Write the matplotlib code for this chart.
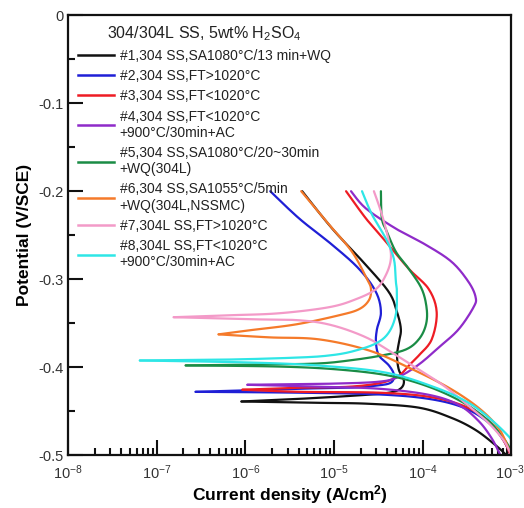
import matplotlib
matplotlib.use("Agg")
import matplotlib.pyplot as plt
import numpy as np
from matplotlib.lines import Line2D
from matplotlib.ticker import FixedLocator, FuncFormatter, LogLocator, NullFormatter

plt.rcParams['font.family'] = ['Liberation Sans', 'DejaVu Sans']
plt.rcParams['axes.unicode_minus'] = False
plt.rcParams['mathtext.default'] = 'regular'

# Polarization curves: log10(current density, A/cm2) and potential (V/SCE).
# Each sample has an anodic branch (corrosion potential -> top) and a
# cathodic branch (corrosion potential -> high cathodic current).
labels = [
    "#1,304 SS,SA1080°C/13 min+WQ",
    "#2,304 SS,FT>1020°C",
    "#3,304 SS,FT<1020°C",
    "#4,304 SS,FT<1020°C\n+900°C/30min+AC",
    "#5,304 SS,SA1080°C/20~30min\n+WQ(304L)",
    "#6,304 SS,SA1055°C/5min\n+WQ(304L,NSSMC)",
    "#7,304L SS,FT>1020°C",
    "#8,304L SS,FT<1020°C\n+900°C/30min+AC",
]
colors = ['#111111', '#1f1fd6', '#ee1c24', '#8f2bc9', '#1a8c45', '#f57a2a', '#f39ac8', '#2ee6e6']

s1_anodic_logi = [-6.045, -5.393, -4.719, -4.38, -4.247, -4.213, -4.27, -4.29, -4.27, -4.247, -4.29, -4.38, -4.64, -5.02, -5.36]
s1_anodic_e = [-0.439, -0.436, -0.432, -0.429, -0.424, -0.415, -0.403, -0.387, -0.372, -0.357, -0.3375, -0.315, -0.284, -0.2426, -0.2]
s1_cathodic_logi = [-6.045, -5.169, -4.607, -4.045, -3.674, -3.404, -3.18, -3.056]
s1_cathodic_e = [-0.439, -0.4405, -0.4416, -0.446, -0.4577, -0.4714, -0.4886, -0.5]

s2_anodic_logi = [-6.562, -5.393, -4.831, -4.528, -4.36, -4.326, -4.382, -4.494, -4.528, -4.517, -4.472, -4.528, -4.719, -5.022, -5.393, -5.72]
s2_anodic_e = [-0.428, -0.4245, -0.4233, -0.421, -0.4176, -0.4085, -0.398, -0.3867, -0.3719, -0.357, -0.3375, -0.3146, -0.2883, -0.2609, -0.2311, -0.2]
s2_cathodic_logi = [-6.562, -5.393, -4.494, -3.933, -3.539, -3.258, -3.09, -3.01]
s2_cathodic_e = [-0.428, -0.429, -0.431, -0.436, -0.446, -0.463, -0.483, -0.5]

s3_anodic_logi = [-6.034, -5.393, -4.831, -4.461, -4.27, -4.157, -4.045, -3.899, -3.843, -3.933, -4.157, -4.416, -4.64, -4.865]
s3_anodic_e = [-0.4256, -0.4233, -0.4222, -0.4176, -0.4096, -0.3982, -0.3867, -0.3684, -0.3375, -0.3112, -0.2883, -0.2574, -0.2311, -0.2]
s3_cathodic_logi = [-6.034, -5.393, -4.494, -3.933, -3.539, -3.258, -3.09, -3.01]
s3_cathodic_e = [-0.4256, -0.428, -0.429, -0.4336, -0.444, -0.461, -0.483, -0.5]

s4_anodic_logi = [-5.978, -5.056, -4.494, -4.27, -4.045, -3.82, -3.596, -3.427, -3.404, -3.483, -3.674, -3.966, -4.303, -4.64, -4.809]
s4_anodic_e = [-0.42, -0.4188, -0.4165, -0.4108, -0.397, -0.3776, -0.357, -0.3318, -0.3204, -0.3032, -0.2803, -0.2609, -0.2426, -0.2197, -0.2]
s4_cathodic_logi = [-5.978, -5.169, -4.494, -3.933, -3.596, -3.371, -3.225, -3.124, -3.08]
s4_cathodic_e = [-0.42, -0.4222, -0.4245, -0.4314, -0.4428, -0.4611, -0.4805, -0.5, -0.509]

s5_anodic_logi = [-6.674, -5.843, -5.202, -4.831, -4.461, -4.191, -4.045, -3.966, -3.955, -4.011, -4.157, -4.303, -4.404, -4.461, -4.472]
s5_anodic_e = [-0.398, -0.397, -0.3959, -0.3924, -0.3867, -0.3799, -0.3684, -0.3524, -0.3341, -0.3112, -0.2883, -0.2689, -0.246, -0.2311, -0.2]
s5_cathodic_logi = [-6.674, -5.618, -4.944, -4.382, -3.933, -3.539, -3.258, -3.09, -3.0]
s5_cathodic_e = [-0.398, -0.3993, -0.4027, -0.4096, -0.4222, -0.4405, -0.4611, -0.4805, -0.4954]

s6_anodic_logi = [-6.303, -5.955, -5.427, -4.944, -4.719, -4.607, -4.584, -4.629, -4.798, -5.056, -5.371]
s6_anodic_e = [-0.3627, -0.3581, -0.3513, -0.341, -0.3341, -0.3238, -0.3112, -0.2998, -0.2689, -0.238, -0.2]
s6_cathodic_logi = [-6.303, -5.73, -5.169, -4.607, -4.157, -3.708, -3.371, -3.146, -3.034, -3.0]
s6_cathodic_e = [-0.3627, -0.3661, -0.3684, -0.381, -0.4005, -0.4233, -0.4462, -0.4691, -0.492, -0.5]

s7_anodic_logi = [-6.809, -6.18, -5.618, -5.056, -4.753, -4.528, -4.416, -4.36, -4.382, -4.461, -4.551]
s7_anodic_e = [-0.3432, -0.341, -0.3387, -0.3318, -0.3227, -0.3112, -0.2952, -0.2769, -0.2574, -0.2265, -0.2]
s7_cathodic_logi = [-6.809, -5.955, -5.393, -5.022, -4.64, -4.348, -4.045, -3.764, -3.483, -3.258, -3.09, -3.011]
s7_cathodic_e = [-0.3432, -0.3455, -0.3467, -0.3524, -0.3661, -0.3833, -0.4027, -0.421, -0.4439, -0.4634, -0.4828, -0.4977]

s8_anodic_logi = [-7.191, -6.18, -5.393, -5.056, -4.798, -4.528, -4.382, -4.303, -4.292, -4.303, -4.326, -4.416, -4.573, -4.685]
s8_anodic_e = [-0.3924, -0.3913, -0.389, -0.3867, -0.3822, -0.373, -0.3604, -0.3398, -0.3146, -0.3032, -0.2769, -0.254, -0.2265, -0.2]
s8_cathodic_logi = [-7.191, -5.955, -5.169, -4.416, -3.854, -3.483, -3.225, -3.034, -3.0]
s8_cathodic_e = [-0.3924, -0.3947, -0.3982, -0.4062, -0.4233, -0.4405, -0.46, -0.4783, -0.484]

series = [
    (s1_anodic_logi, s1_anodic_e, s1_cathodic_logi, s1_cathodic_e),
    (s2_anodic_logi, s2_anodic_e, s2_cathodic_logi, s2_cathodic_e),
    (s3_anodic_logi, s3_anodic_e, s3_cathodic_logi, s3_cathodic_e),
    (s4_anodic_logi, s4_anodic_e, s4_cathodic_logi, s4_cathodic_e),
    (s5_anodic_logi, s5_anodic_e, s5_cathodic_logi, s5_cathodic_e),
    (s6_anodic_logi, s6_anodic_e, s6_cathodic_logi, s6_cathodic_e),
    (s7_anodic_logi, s7_anodic_e, s7_cathodic_logi, s7_cathodic_e),
    (s8_anodic_logi, s8_anodic_e, s8_cathodic_logi, s8_cathodic_e),
]

y_ticks = [0, -0.1, -0.2, -0.3, -0.4, -0.5]
x_ticks = [1e-8, 1e-7, 1e-6, 1e-5, 1e-4, 1e-3]


def smooth(logi, e, n=12):
    """Catmull-Rom interpolation through the sampled points."""
    p = np.column_stack([logi, e])
    p = np.vstack([p[0], p, p[-1]])
    out = []
    t = np.linspace(0, 1, n, endpoint=False)
    for i in range(1, len(p) - 2):
        p0, p1, p2, p3 = p[i - 1], p[i], p[i + 1], p[i + 2]
        tt = t[:, None]
        seg = 0.5 * ((2 * p1) + (-p0 + p2) * tt + (2 * p0 - 5 * p1 + 4 * p2 - p3) * tt ** 2
                     + (-p0 + 3 * p1 - 3 * p2 + p3) * tt ** 3)
        out.append(seg)
    out.append(p[-2][None, :])
    out = np.vstack(out)
    return out[:, 0], out[:, 1]


fig = plt.figure(figsize=(5.24, 5.08), dpi=100)
ax = fig.add_axes([0.130, 0.104, 0.846, 0.866])

for (al, ae, cl, ce), c in zip(series, colors):
    x, y = smooth(al, ae)
    ax.plot(10 ** x, y, color=c, lw=1.6, solid_capstyle='round')
    x, y = smooth(cl, ce)
    ax.plot(10 ** x, y, color=c, lw=1.6, solid_capstyle='round')

ax.set_xscale('log')
ax.set_xlim(1e-8, 1e-3)
ax.set_ylim(-0.5, 0)
ax.yaxis.set_major_locator(FixedLocator(y_ticks))
ax.yaxis.set_minor_locator(FixedLocator(np.arange(-0.45, 0, 0.1)))
ax.yaxis.set_major_formatter(FuncFormatter(lambda v, p: '%g' % round(v, 2)))
ax.xaxis.set_major_locator(FixedLocator(x_ticks))
ax.xaxis.set_minor_locator(LogLocator(base=10, subs=np.arange(2, 10), numticks=10))
ax.xaxis.set_minor_formatter(NullFormatter())
# the rightmost decade label is written separately so it stays inside the figure
ax.xaxis.set_major_formatter(FuncFormatter(
    lambda v, p: '' if v >= x_ticks[-1] * 0.999 else '$10^{%d}$' % round(np.log10(v))))

ax.tick_params(which='both', direction='in', top=False, right=False, width=1.5, colors='#111111',
               labelcolor='#333333', labelsize=10.5)
ax.tick_params(which='major', length=11)
ax.tick_params(which='minor', length=5)
ax.tick_params(axis='x', pad=6)
for sp in ax.spines.values():
    sp.set_linewidth(1.6)
    sp.set_color('#111111')

ax.annotate('$10^{%d}$' % round(np.log10(x_ticks[-1])), xy=(x_ticks[-1], 0), xycoords=('data', 'axes fraction'),
            xytext=(-1, -6), textcoords='offset points', ha='center', va='top',
            fontsize=10.5, color='#333333')

ax.set_xlabel('Current density (A/cm$^2$)', fontsize=12.5, fontweight='bold', labelpad=1)
ax.set_ylabel('Potential (V/SCE)', fontsize=12.5, fontweight='bold', labelpad=4)

handles = [Line2D([], [], color=c, lw=1.8) for c in colors]
leg = ax.legend(handles, labels, loc='upper left', bbox_to_anchor=(0.01, 0.993), frameon=False,
                fontsize=10, handlelength=2.6, handletextpad=0.4, labelspacing=0.45,
                borderaxespad=0, title='304/304L SS, 5wt% H$_2$SO$_4$',
                title_fontsize=11.5)
for t in leg.get_texts():
    t.set_color('#222222')
leg.get_title().set_color('#222222')

fig.savefig('out.png', dpi=100)
